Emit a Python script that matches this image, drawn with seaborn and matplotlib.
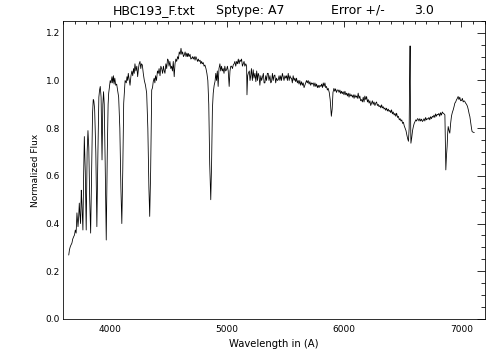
import matplotlib
matplotlib.use("Agg")
import matplotlib.pyplot as plt
from matplotlib.ticker import MultipleLocator, FormatStrFormatter
import pandas as pd
import seaborn as sns

# Spectrum, split by wavelength region
# Balmer series / Balmer jump, 3649-4124 A
wave_blue = [
    3649, 3655, 3662, 3668, 3676, 3683, 3691, 3698, 3705, 3712,
    3719, 3728, 3734, 3739, 3744, 3750, 3756, 3760, 3770, 3776,
    3782, 3790, 3798, 3806, 3813, 3820, 3828, 3836, 3844, 3852,
    3858, 3863, 3870, 3880, 3889, 3898, 3906, 3912, 3918, 3925,
    3933, 3940, 3946, 3952, 3960, 3969, 3978, 3985, 3990, 3996,
    4003, 4010, 4018, 4024, 4030, 4036, 4042, 4050, 4058, 4066,
    4075, 4085, 4094, 4102, 4110, 4118, 4124]
flux_blue = [
    0.268, 0.29, 0.303, 0.31, 0.318, 0.335, 0.345, 0.352, 0.373, 0.36,
    0.445, 0.387, 0.43, 0.486, 0.44, 0.40, 0.54, 0.50, 0.373, 0.60,
    0.765, 0.62, 0.373, 0.70, 0.79, 0.72, 0.50, 0.36, 0.60, 0.86,
    0.92, 0.915, 0.88, 0.70, 0.387, 0.70, 0.93, 0.96, 0.975, 0.93,
    0.667, 0.90, 0.953, 0.90, 0.65, 0.331, 0.70, 0.90, 0.947, 0.97,
    1.00, 0.99, 1.016, 0.99, 1.02, 0.985, 1.01, 0.98, 0.985, 0.96,
    0.93, 0.80, 0.55, 0.40, 0.62, 0.905, 0.95]

# H-gamma and H-beta, 4130-5010 A
wave_hbeta = [
    4130, 4140, 4146, 4152, 4157, 4163, 4172, 4180, 4188, 4195,
    4202, 4208, 4214, 4222, 4230, 4237, 4244, 4250, 4257, 4264,
    4270, 4277, 4285, 4294, 4304, 4314, 4324, 4333, 4340, 4348,
    4357, 4364, 4370, 4378, 4384, 4390, 4398, 4406, 4413, 4420,
    4428, 4435, 4442, 4450, 4457, 4464, 4470, 4478, 4485, 4492,
    4498, 4505, 4512, 4520, 4527, 4534, 4541, 4549, 4556, 4563,
    4570, 4578, 4585, 4592, 4600, 4607, 4614, 4621, 4628, 4635,
    4642, 4650, 4657, 4663, 4669, 4676, 4684, 4691, 4698, 4705,
    4712, 4720, 4727, 4734, 4740, 4748, 4755, 4762, 4770, 4776,
    4783, 4790, 4797, 4804, 4811, 4820, 4828, 4836, 4844, 4852,
    4861, 4868, 4875, 4882, 4890, 4897, 4904, 4910, 4917, 4924,
    4931, 4939, 4946, 4953, 4960, 4967, 4974, 4981, 4988, 4996,
    5003, 5010]
flux_hbeta = [
    1.00, 0.99, 1.016, 1.00, 1.03, 1.01, 0.98, 1.02, 1.04, 1.02,
    1.05, 1.03, 1.07, 1.04, 1.06, 1.016, 1.05, 1.07, 1.08, 1.05,
    1.07, 1.065, 1.03, 1.00, 0.98, 0.947, 0.80, 0.55, 0.43, 0.62,
    0.96, 0.97, 0.995, 1.01, 0.99, 1.02, 1.00, 1.04, 1.03, 1.05,
    1.02, 1.06, 1.05, 1.03, 1.06, 1.04, 1.03, 1.07, 1.05, 1.09,
    1.086, 1.06, 1.08, 1.05, 1.06, 1.04, 1.08, 1.016, 1.07, 1.09,
    1.08, 1.10, 1.09, 1.12, 1.11, 1.135, 1.11, 1.12, 1.10, 1.107,
    1.12, 1.10, 1.115, 1.10, 1.114, 1.10, 1.11, 1.09, 1.093, 1.10,
    1.09, 1.10, 1.085, 1.10, 1.093, 1.08, 1.09, 1.08, 1.085, 1.07,
    1.08, 1.07, 1.075, 1.06, 1.065, 1.05, 1.03, 1.00, 0.90, 0.65,
    0.50, 0.65, 0.88, 0.947, 0.98, 0.995, 1.03, 1.00, 1.04, 0.975,
    1.05, 1.07, 1.04, 1.06, 1.04, 1.05, 1.03, 1.06, 1.04, 1.045,
    1.06, 1.04]

# Mg b to Na D, 5018-5897 A
wave_green = [
    5018, 5025, 5032, 5039, 5046, 5053, 5060, 5067, 5074, 5082,
    5089, 5096, 5103, 5110, 5117, 5124, 5131, 5138, 5145, 5152,
    5160, 5167, 5170, 5176, 5181, 5190, 5196, 5201, 5208, 5216,
    5223, 5230, 5238, 5246, 5253, 5260, 5266, 5273, 5280, 5288,
    5295, 5303, 5310, 5316, 5323, 5330, 5337, 5344, 5351, 5358,
    5366, 5373, 5380, 5387, 5394, 5401, 5408, 5415, 5422, 5430,
    5437, 5444, 5451, 5458, 5465, 5472, 5479, 5486, 5494, 5501,
    5508, 5515, 5522, 5530, 5537, 5543, 5550, 5557, 5564, 5572,
    5579, 5586, 5593, 5600, 5607, 5614, 5621, 5628, 5636, 5643,
    5650, 5657, 5664, 5671, 5678, 5685, 5692, 5700, 5707, 5714,
    5721, 5728, 5735, 5742, 5750, 5757, 5764, 5771, 5778, 5785,
    5792, 5800, 5807, 5814, 5821, 5828, 5835, 5842, 5849, 5856,
    5863, 5872, 5880, 5890, 5897]
flux_green = [
    0.975, 1.04, 1.06, 1.06, 1.05, 1.065, 1.07, 1.08, 1.06, 1.08,
    1.07, 1.09, 1.07, 1.086, 1.08, 1.09, 1.06, 1.07, 1.08, 1.06,
    1.07, 1.06, 0.94, 1.02, 1.03, 1.04, 1.00, 1.016, 1.05, 1.00,
    1.045, 1.01, 1.03, 0.995, 1.04, 1.00, 1.03, 1.02, 0.98, 1.02,
    1.00, 1.016, 1.03, 0.99, 0.99, 1.02, 1.00, 1.03, 1.03, 1.00,
    1.02, 0.99, 0.995, 1.03, 1.00, 1.02, 1.023, 0.99, 1.01, 1.00,
    1.003, 1.02, 1.00, 1.02, 1.00, 1.03, 1.016, 1.00, 1.02, 1.01,
    1.02, 1.00, 1.03, 1.00, 1.02, 1.01, 1.01, 0.99, 1.02, 1.00,
    1.01, 0.995, 1.01, 0.99, 1.00, 0.985, 1.00, 0.98, 0.995, 0.98,
    0.99, 0.97, 0.98, 0.99, 1.00, 0.99, 1.00, 0.985, 0.995, 0.98,
    0.99, 0.985, 0.99, 0.975, 0.99, 0.975, 0.985, 0.97, 0.98, 0.97,
    0.98, 0.975, 0.985, 0.97, 0.99, 0.975, 0.99, 0.97, 0.975, 0.96,
    0.967, 0.95, 0.92, 0.85, 0.88]

# red continuum and H-alpha, 5904-6597 A
wave_halpha = [
    5904, 5912, 5919, 5926, 5934, 5941, 5949, 5956, 5963, 5970,
    5977, 5984, 5991, 5998, 6006, 6013, 6020, 6027, 6034, 6041,
    6048, 6055, 6062, 6070, 6077, 6084, 6091, 6098, 6105, 6112,
    6119, 6126, 6133, 6140, 6148, 6155, 6162, 6169, 6176, 6184,
    6191, 6198, 6205, 6212, 6219, 6226, 6233, 6240, 6247, 6254,
    6262, 6269, 6276, 6283, 6290, 6297, 6305, 6312, 6319, 6326,
    6333, 6340, 6347, 6354, 6361, 6369, 6376, 6383, 6390, 6397,
    6404, 6411, 6418, 6426, 6433, 6440, 6447, 6455, 6462, 6470,
    6477, 6484, 6491, 6498, 6505, 6512, 6520, 6527, 6535, 6542,
    6548, 6554, 6558, 6562, 6565, 6569, 6576, 6583, 6590, 6597]
flux_halpha = [
    0.95, 0.967, 0.955, 0.965, 0.95, 0.96, 0.96, 0.95, 0.96, 0.945,
    0.955, 0.945, 0.953, 0.94, 0.955, 0.94, 0.947, 0.935, 0.947, 0.93,
    0.945, 0.935, 0.94, 0.93, 0.94, 0.925, 0.94, 0.93, 0.935, 0.925,
    0.947, 0.925, 0.935, 0.915, 0.92, 0.91, 0.93, 0.91, 0.935, 0.92,
    0.933, 0.91, 0.92, 0.905, 0.915, 0.895, 0.905, 0.915, 0.90, 0.91,
    0.895, 0.905, 0.91, 0.895, 0.90, 0.89, 0.895, 0.885, 0.898, 0.885,
    0.89, 0.88, 0.885, 0.875, 0.884, 0.872, 0.88, 0.87, 0.875, 0.865,
    0.877, 0.86, 0.868, 0.855, 0.862, 0.85, 0.863, 0.845, 0.85, 0.835,
    0.84, 0.83, 0.835, 0.82, 0.825, 0.81, 0.80, 0.79, 0.77, 0.755,
    0.745, 0.80, 1.00, 1.145, 0.90, 0.737, 0.76, 0.79, 0.807, 0.82]

# telluric B band and red end, 6604-7110 A
wave_red = [
    6604, 6611, 6618, 6625, 6631, 6638, 6645, 6652, 6660, 6667,
    6674, 6681, 6688, 6695, 6702, 6709, 6716, 6723, 6730, 6737,
    6745, 6752, 6759, 6766, 6773, 6780, 6787, 6794, 6801, 6808,
    6815, 6822, 6830, 6837, 6844, 6852, 6859, 6864, 6867, 6872,
    6878, 6883, 6887, 6894, 6901, 6908, 6915, 6922, 6930, 6937,
    6944, 6951, 6958, 6965, 6972, 6979, 6986, 6993, 7001, 7008,
    7015, 7022, 7029, 7036, 7044, 7052, 7060, 7066, 7072, 7080,
    7086, 7091, 7100, 7110]
flux_red = [
    0.828, 0.835, 0.83, 0.84, 0.838, 0.83, 0.84, 0.83, 0.838, 0.828,
    0.832, 0.84, 0.83, 0.845, 0.835, 0.84, 0.838, 0.845, 0.835, 0.848,
    0.84, 0.85, 0.846, 0.855, 0.845, 0.86, 0.85, 0.858, 0.856, 0.862,
    0.85, 0.865, 0.855, 0.868, 0.863, 0.86, 0.856, 0.70, 0.625, 0.68,
    0.723, 0.78, 0.807, 0.79, 0.779, 0.82, 0.85, 0.865, 0.877, 0.89,
    0.905, 0.91, 0.919, 0.925, 0.933, 0.92, 0.93, 0.915, 0.916, 0.925,
    0.91, 0.915, 0.912, 0.905, 0.90, 0.891, 0.875, 0.86, 0.849, 0.82,
    0.80, 0.786, 0.783, 0.782]

df = pd.DataFrame({
    "wave": wave_blue + wave_hbeta + wave_green + wave_halpha + wave_red,
    "flux": flux_blue + flux_hbeta + flux_green + flux_halpha + flux_red,
})

sns.set_style("white")
plt.rcParams["font.family"] = ["DejaVu Sans"]
plt.rcParams["text.color"] = "black"
plt.rcParams["axes.labelcolor"] = "black"
plt.rcParams["xtick.color"] = "black"
plt.rcParams["ytick.color"] = "black"

fig = plt.figure(figsize=(7, 5), dpi=72)
ax = fig.add_axes([0.125, 0.114, 0.837, 0.828])

sns.lineplot(data=df, x="wave", y="flux", sort=False, estimator=None,
             color="black", linewidth=0.8, ax=ax)

ax.set_xlim(3600, 7200)
ax.set_ylim(0.0, 1.25)
ax.xaxis.set_major_locator(MultipleLocator(1000))
ax.xaxis.set_minor_locator(MultipleLocator(100))
ax.yaxis.set_major_locator(MultipleLocator(0.2))
ax.yaxis.set_minor_locator(MultipleLocator(0.05))
ax.yaxis.set_major_formatter(FormatStrFormatter("%.1f"))

for side in ax.spines.values():
    side.set_color("black")
    side.set_linewidth(0.8)
    side.set_visible(True)

ax.tick_params(which="both", direction="in", top=True, right=True,
               color="black", labelcolor="black", width=0.8, labelsize=9)
ax.tick_params(axis="x", which="major", length=6, pad=6)
ax.tick_params(axis="x", which="minor", length=3)
ax.tick_params(axis="y", which="major", length=8.5, pad=3)
ax.tick_params(axis="y", which="minor", length=4.2)

ax.set_xlabel("Wavelength in (A)", fontsize=10, labelpad=5)
ax.set_ylabel("Normalized Flux", fontsize=9, labelpad=6)

# title pieces spread across the top like the original
fig.text(0.305, 0.972, "HBC193_F.txt", ha="center", va="center", fontsize=12.5)
fig.text(0.497, 0.972, "Sptype: A7", ha="center", va="center", fontsize=12.5)
fig.text(0.710, 0.972, "Error +/-", ha="center", va="center", fontsize=12.5)
fig.text(0.842, 0.972, "3.0", ha="center", va="center", fontsize=12.5)

fig.savefig("out.png", dpi=72)
